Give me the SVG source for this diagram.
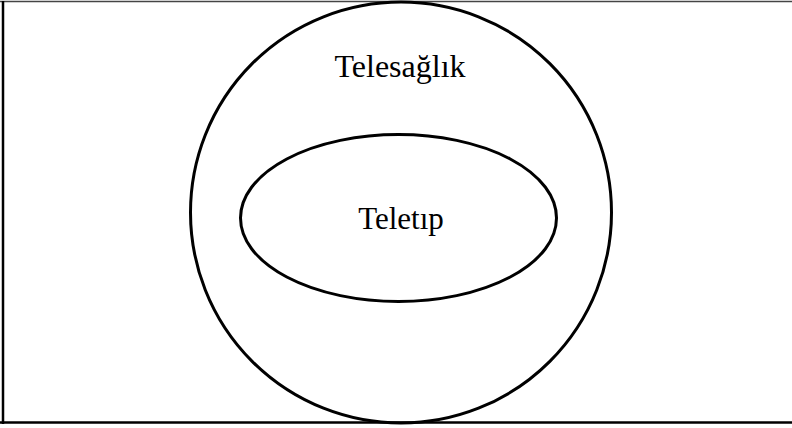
<svg xmlns="http://www.w3.org/2000/svg" width="792" height="428" viewBox="0 0 792 428">
<style>
.shape{fill:none;stroke:#000;stroke-width:3}
.lbl{font-family:"Liberation Serif","Times New Roman",serif;fill:#000;text-anchor:middle}
</style>
<rect width="792" height="428" fill="#fff"/>
<g id="frame">
<line x1="0" y1="1.5" x2="792" y2="1.5" stroke="#444" stroke-width="1.5"/>
<line x1="3" y1="1" x2="3" y2="424" stroke="#000" stroke-width="2.5"/>
<line x1="0" y1="422.5" x2="792" y2="422.5" stroke="#000" stroke-width="2.5"/>
</g>
<g id="telesaglik">
<circle class="shape" cx="401" cy="212.5" r="210.5"/>
<text class="lbl" x="400" y="77" font-size="32">Telesağlık</text>
</g>
<g id="teletip">
<ellipse class="shape" cx="398.5" cy="218" rx="158" ry="83.5"/>
<text class="lbl" x="401" y="229" font-size="31">Teletıp</text>
</g>
<g id="connectors"/>
</svg>
